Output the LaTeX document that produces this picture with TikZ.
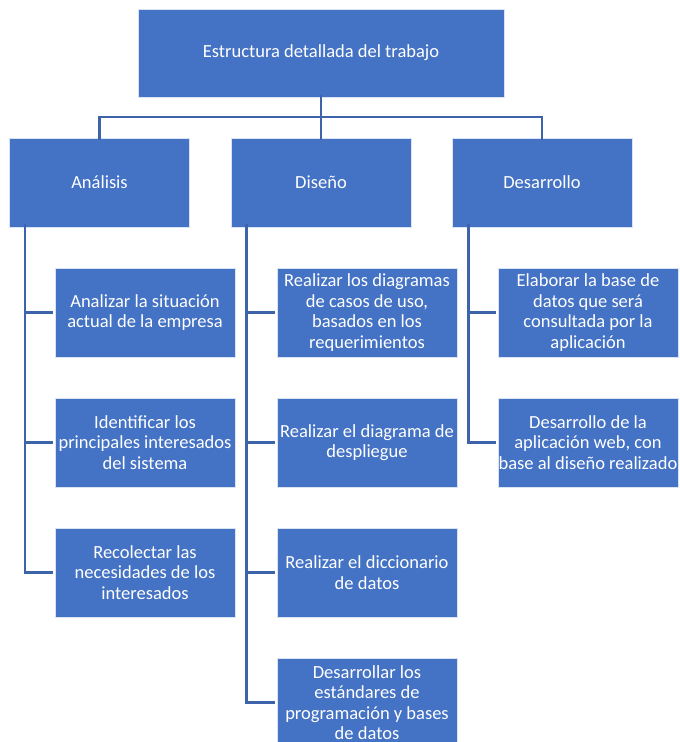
\documentclass[tikz,border=0pt]{standalone}
\usepackage{fontspec}
\setmainfont{Carlito}
\definecolor{boxblue}{HTML}{4472C4}
\definecolor{lineblue}{HTML}{3D63AB}
\begin{document}
\begin{tikzpicture}[x=1pt,y=-1pt,
  box/.style={rectangle, fill=boxblue, draw=white!80!boxblue, line width=0.8pt,
    minimum width=180pt, minimum height=89pt, inner sep=0pt, text=white,
    align=center, font=\fontsize{18.5}{20.5}\selectfont},
  conn/.style={draw=lineblue, line width=2.6pt}]
\useasboundingbox (0,0) rectangle (680,742);
\node[box, minimum width=366pt, minimum height=88pt] (top) at (321,53) {Estructura detallada del trabajo};
\node[box] (ana) at (99.5,182.5) {Análisis};
\node[box] (dis) at (321,182.5) {Diseño};
\node[box] (des) at (542,182.5) {Desarrollo};
% Análisis children
\node[box] (a1) at (145,312.5) {Analizar la situación\\actual de la empresa};
\node[box] (a2) at (145,442.5) {Identificar los\\principales interesados\\del sistema};
\node[box] (a3) at (145,572.5) {Recolectar las\\necesidades de los\\interesados};
% Diseño children
\node[box] (d1) at (367,312.5) {Realizar los diagramas\\de casos de uso,\\basados en los\\requerimientos};
\node[box] (d2) at (367,442.5) {Realizar el diagrama de\\despliegue};
\node[box] (d3) at (367,572.5) {Realizar el diccionario\\de datos};
\node[box] (d4) at (367,702.5) {Desarrollar los\\estándares de\\programación y bases\\de datos};
% Desarrollo children
\node[box] (e1) at (588,312.5) {Elaborar la base de\\datos que será\\consultada por la\\aplicación};
\node[box] (e2) at (588,442.5) {Desarrollo de la\\aplicación web, con\\base al diseño realizado};
% top-level connectors
\coordinate (bus) at (0,117);
\draw[conn] ([yshift=2pt]top.south) -- (top.south |- bus);
\draw[conn] ([yshift=-2pt]ana.north) |- (bus -| des.north) -- ([yshift=-2pt]des.north);
\draw[conn] (dis.north |- bus) -- ([yshift=-2pt]dis.north);
% spines
\coordinate (sa) at ([xshift=16pt,yshift=3pt]ana.south west);
\coordinate (sd) at ([xshift=16pt,yshift=3pt]dis.south west);
\coordinate (se) at ([xshift=17pt,yshift=3pt]des.south west);
\draw[conn] (sa) |- ([xshift=-2pt]a3.west);
\draw[conn] (sa |- a1.west) -- ([xshift=-2pt]a1.west);
\draw[conn] (sa |- a2.west) -- ([xshift=-2pt]a2.west);
\draw[conn] (sd) |- ([xshift=-2pt]d4.west);
\draw[conn] (sd |- d1.west) -- ([xshift=-2pt]d1.west);
\draw[conn] (sd |- d2.west) -- ([xshift=-2pt]d2.west);
\draw[conn] (sd |- d3.west) -- ([xshift=-2pt]d3.west);
\draw[conn] (se) |- ([xshift=-2pt]e2.west);
\draw[conn] (se |- e1.west) -- ([xshift=-2pt]e1.west);
\end{tikzpicture}
\end{document}
